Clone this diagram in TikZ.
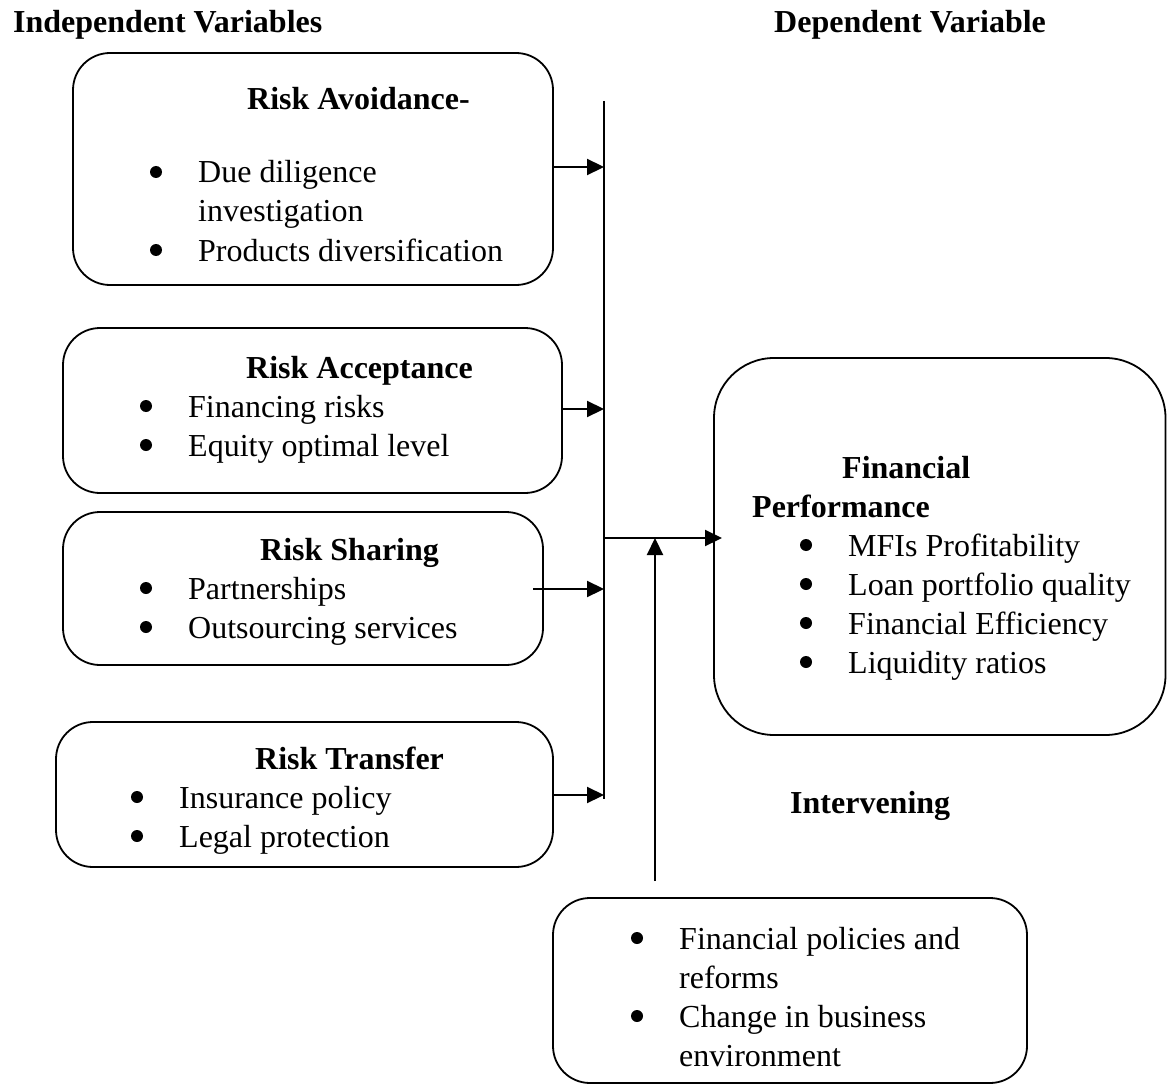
\documentclass[tikz,border=0pt]{standalone}
\usepackage{fontspec}
\setmainfont{Liberation Serif}
\usetikzlibrary{arrows.meta}
\newcommand\bulat[1]{\fill ([xshift=-42pt,yshift=11pt]#1.base west) circle (6pt);}
\begin{document}
\begin{tikzpicture}[x=1pt,y=-1pt,
  box/.style={draw, line width=1.8pt, rounded corners=37pt, inner sep=0pt, outer sep=0pt},
  txt/.style={anchor=base west, inner sep=0pt, font=\fontsize{32}{39}\selectfont},
  ttl/.style={anchor=base west, inner sep=0pt, font=\fontsize{32}{39}\selectfont\bfseries},
  arr/.style={line width=2.2pt, -{Triangle[length=17pt,width=16pt]}},
  ln/.style={line width=1.8pt}]
\useasboundingbox (0,0) rectangle (1167,1086);

% headers
\node[ttl] (hind) at (13,33) {Independent Variables};
\node[ttl] (hdep) at (774,33) {Dependent Variable};

% boxes
\node[box, minimum width=480pt, minimum height=232pt] (b1) at (313,169) {};
\node[box, minimum width=499pt, minimum height=165pt] (b2) at (312.5,410.5) {};
\node[box, minimum width=480pt, minimum height=153pt] (b3) at (303,588.5) {};
\node[box, minimum width=497pt, minimum height=145pt] (b4) at (304.5,794.5) {};
\node[box, rounded corners=60pt, minimum width=451.5pt, minimum height=377pt] (b5) at (939.75,546.5) {};
\node[box, minimum width=474pt, minimum height=185pt] (b6) at (790,990.5) {};

% box 1 text
\node[ttl] (t1) at (247,110) {Risk Avoidance-};
\node[txt] (t1a) at (198,183) {Due diligence};
\node[txt] (t1b) at (198,222) {investigation};
\node[txt] (t1c) at (198,261) {Products diversification};
\bulat{t1a}\bulat{t1c}

% box 2 text
\node[ttl] (t2) at (246,378) {Risk Acceptance};
\node[txt] (t2a) at (188,417) {Financing risks};
\node[txt] (t2b) at (188,456) {Equity optimal level};
\bulat{t2a}\bulat{t2b}

% box 3 text
\node[ttl] (t3) at (260,560) {Risk Sharing};
\node[txt] (t3a) at (188,599) {Partnerships};
\node[txt] (t3b) at (188,638) {Outsourcing services};
\bulat{t3a}\bulat{t3b}

% box 4 text
\node[ttl] (t4) at (255,769) {Risk Transfer};
\node[txt] (t4a) at (179,808) {Insurance policy};
\node[txt] (t4b) at (179,847) {Legal protection};
\bulat{t4a}\bulat{t4b}

% box 5 text
\node[ttl] (t5) at (842,478) {Financial};
\node[ttl] (t5b) at (752,517) {Performance};
\node[txt] (t5c) at (848,556) {MFIs Profitability};
\node[txt] (t5d) at (848,595) {Loan portfolio quality};
\node[txt] (t5e) at (848,634) {Financial Efficiency};
\node[txt] (t5f) at (848,673) {Liquidity ratios};
\bulat{t5c}\bulat{t5d}\bulat{t5e}\bulat{t5f}

% intervening
\node[ttl] (tint) at (790,813) {Intervening};
\node[txt] (t6a) at (679,949) {Financial policies and};
\node[txt] (t6b) at (679,988) {reforms};
\node[txt] (t6c) at (679,1027) {Change in business};
\node[txt] (t6d) at (679,1066) {environment};
\bulat{t6a}\bulat{t6c}

% connectors
\coordinate (vt) at (604,101);
\coordinate (vb) at (604,799);
\draw[ln] (vt) -- (vb);
\coordinate (p1) at (604,167);
\coordinate (p2) at (604,409);
\coordinate (p3) at (604,589);
\coordinate (p4) at (604,795);
\coordinate (p5) at (604,538);
\coordinate (q) at (655,881);
\draw[arr] (p1 -| b1.east) -- (p1);
\draw[arr] (p2 -| b2.east) -- (p2);
\draw[arr] ([xshift=-10pt]p3 -| b3.east) -- (p3);
\draw[arr] (p4 -| b4.east) -- (p4);
\draw[arr] (p5) -- ([xshift=8pt]p5 -| b5.west);
\draw[arr] (q) -- (q |- p5);
\end{tikzpicture}
\end{document}
